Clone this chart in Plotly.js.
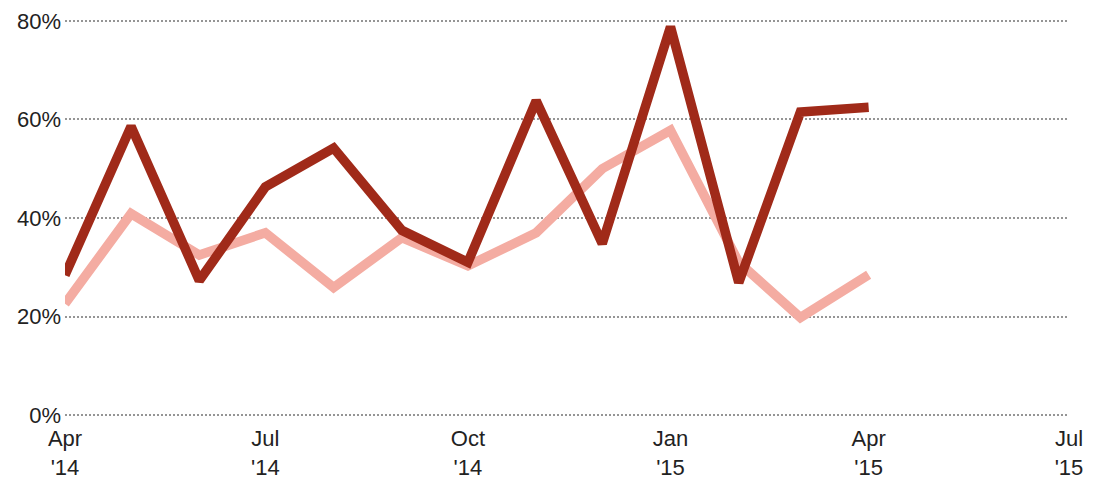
<!DOCTYPE html>
<html>
<head>
<meta charset="utf-8">
<script src="https://cdn.plot.ly/plotly-3.0.1.min.js"></script>
<style>
  html, body { margin: 0; padding: 0; background: #fff; }
  #chartDiv { width: 1099px; height: 479px; }
</style>
</head>
<body>
<div id="chartDiv"></div>
<script>
"use strict";

// monthly values, Apr 2014 .. Apr 2015
const months = [
    "2014-04-01", "2014-05-01", "2014-06-01", "2014-07-01", "2014-08-01",
    "2014-09-01", "2014-10-01", "2014-11-01", "2014-12-01", "2015-01-01",
    "2015-02-01", "2015-03-01", "2015-04-01"
];
const darkValues = [28.4, 58.6, 27.3, 46.3, 54.2, 37.5, 31.0, 63.8, 34.8, 78.8, 26.9, 61.5, 62.5];
const lightValues = [22.6, 40.9, 32.5, 37.0, 25.9, 36.0, 30.3, 37.0, 50.0, 57.8, 31.0, 19.8, 28.5];

const tickDates = ["2014-04-01", "2014-07-01", "2014-10-01", "2015-01-01", "2015-04-01", "2015-07-01"];
const tickLabels = ["Apr<br>'14", "Jul<br>'14", "Oct<br>'14", "Jan<br>'15", "Apr<br>'15", "Jul<br>'15"];
const yTicks = [0, 20, 40, 60, 80];
const yLabels = ["0%", "20%", "40%", "60%", "80%"];

var lightTrace = {
    x: months,
    y: lightValues,
    type: "scatter",
    mode: "lines",
    line: { color: "#f4aca2", width: 9.5, shape: "linear" },
    hoverinfo: "skip"
};
var darkTrace = {
    x: months,
    y: darkValues,
    type: "scatter",
    mode: "lines",
    line: { color: "#a02a19", width: 9.5, shape: "linear" },
    hoverinfo: "skip"
};

// y range padded by 1 unit each side so the 0% and 80% gridlines get drawn
var layout = {
    width: 1099,
    height: 479,
    margin: { l: 65, r: 30, t: 16, b: 59 },
    paper_bgcolor: "#ffffff",
    plot_bgcolor: "#ffffff",
    showlegend: false,
    font: { family: "Liberation Sans, Arial, sans-serif", size: 22, color: "#222222" },
    xaxis: {
        type: "date",
        range: ["2014-04-01", "2015-07-01"],
        tickmode: "array",
        tickvals: tickDates,
        ticktext: tickLabels,
        showgrid: false,
        zeroline: false,
        showline: false,
        ticks: "",
        ticklabelstandoff: 3,
        fixedrange: true
    },
    yaxis: {
        range: [-1, 81],
        tickmode: "array",
        tickvals: yTicks,
        ticktext: yLabels,
        showgrid: true,
        gridcolor: "#959595",
        gridwidth: 2,
        griddash: "2px,2px",
        zeroline: false,
        showline: false,
        ticks: "",
        ticklabelstandoff: 3,
        fixedrange: true
    }
};

Plotly.newPlot("chartDiv", [lightTrace, darkTrace], layout, { displayModeBar: false, staticPlot: true });
</script>
</body>
</html>
